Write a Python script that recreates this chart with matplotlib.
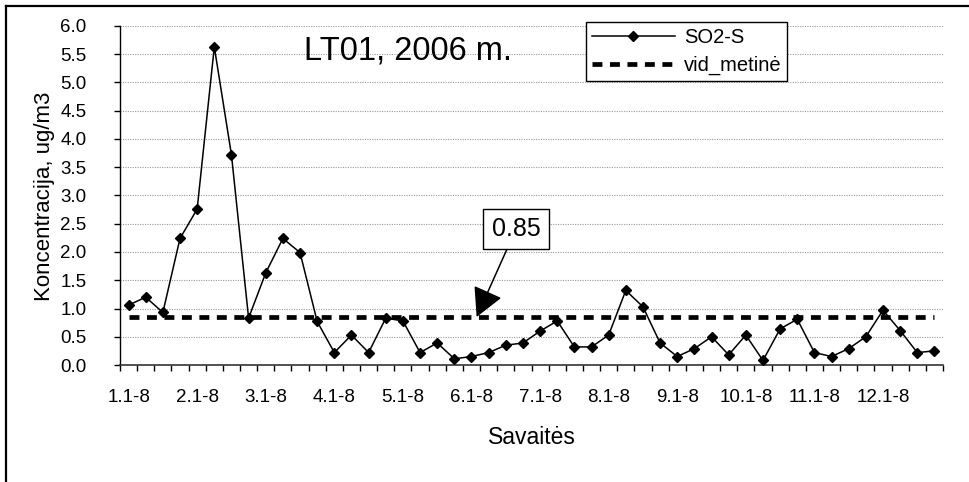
import matplotlib
matplotlib.use("Agg")
import matplotlib.pyplot as plt
from matplotlib.lines import Line2D
import numpy as np

plt.rcParams['font.family'] = ['Liberation Sans', 'DejaVu Sans']

# ---- data ----
so2_s = [1.06, 1.20, 0.93, 2.24, 2.76, 5.63, 3.72, 0.83, 1.63, 2.24, 1.99, 0.77,
         0.22, 0.53, 0.22, 0.83, 0.78, 0.22, 0.39, 0.11, 0.15, 0.22, 0.35, 0.39,
         0.60, 0.78, 0.32, 0.32, 0.53, 1.32, 1.03, 0.39, 0.15, 0.29, 0.50, 0.18,
         0.53, 0.08, 0.64, 0.81, 0.22, 0.15, 0.29, 0.50, 0.97, 0.61, 0.22, 0.25]
mean_value = 0.85
month_labels = ["1.1-8", "2.1-8", "3.1-8", "4.1-8", "5.1-8", "6.1-8",
                "7.1-8", "8.1-8", "9.1-8", "10.1-8", "11.1-8", "12.1-8"]
title_text = "LT01, 2006 m."
ylabel_text = "Koncentracija, ug/m3"
xlabel_text = "Savaitės"
legend_labels = ["SO2-S", "vid_metinė"]

n = len(so2_s)
x = np.arange(n)
mean_series = [mean_value] * n

W, H = 969, 482
fig = plt.figure(figsize=(W / 100, H / 100), dpi=100)
ax = fig.add_axes([120 / W, 1 - 365 / H, (943 - 120) / W, (365 - 26) / H])

ax.set_xlim(-0.5, n - 0.5)
ax.set_ylim(0, 6.0)

# gridlines
yt = np.arange(0, 6.01, 0.5)
ax.set_yticks(yt)
ax.set_yticklabels([f"{v:.1f}" for v in yt])
for v in yt[1:]:
    ax.axhline(v, color='#9a9a9a', lw=0.8, ls=(0, (1, 1.2)), zorder=0)

l1, = ax.plot(x, so2_s, color='black', lw=1.1, marker='D', markersize=5.0,
              markerfacecolor='black', markeredgecolor='black', zorder=3)
l2, = ax.plot(x, mean_series, color='black', lw=3.4, ls=(0, (2.1, 1.6)),
              dash_capstyle='butt', zorder=2)

# x ticks
ax.set_xticks(np.arange(0, n, 4))
ax.set_xticklabels(month_labels)
ax.set_xticks(np.arange(-0.5, n, 1), minor=True)
ax.tick_params(axis='x', which='major', length=0, pad=17, labelsize=13.5)
ax.tick_params(axis='x', which='minor', length=4, width=1, direction='out', color='black')
ax.tick_params(axis='y', which='major', length=4, width=1, direction='out', pad=20, labelsize=13.5)

for s in ['top', 'right']:
    ax.spines[s].set_visible(False)
ax.spines['left'].set_linewidth(1.0)
ax.spines['bottom'].set_linewidth(1.2)
ax.spines['bottom'].set_color('#333333')

fig.text(45 / W, 1 - 196 / H, ylabel_text, rotation=90, ha='center', va='center', fontsize=16)
fig.text((120 + 943) / 2 / W, 1 - 438 / H, xlabel_text, ha='center', va='center', fontsize=16.5)

fig.text(408 / W, 1 - 51 / H, title_text, ha='center', va='center', fontsize=23.5)

# annotation
ax.annotate(f"{mean_value:.2f}", xy=(20.3, mean_value), xytext=(22.6, 2.41),
            ha='center', va='center', fontsize=18,
            bbox=dict(boxstyle='square,pad=0.33', fc='white', ec='black', lw=1),
            arrowprops=dict(arrowstyle='-|>,head_length=0.9,head_width=0.48',
                            mutation_scale=20, color='black', lw=1.1,
                            shrinkA=0, shrinkB=0),
            zorder=5)

leg = ax.legend([l1, l2], legend_labels, loc='upper left',
                bbox_to_anchor=(586 / W, 1 - 22 / H), bbox_transform=fig.transFigure,
                fontsize=14.5, frameon=True, fancybox=False, framealpha=1,
                edgecolor='black', handlelength=4.1, handletextpad=0.45,
                borderpad=0.3, labelspacing=0.45, borderaxespad=0)
leg.get_frame().set_linewidth(1.0)
leg.set_zorder(6)

# outer chart border (top and left)
fig.add_artist(Line2D([6 / W, 6 / W], [1 - 6 / H, 0], transform=fig.transFigure,
                      color='black', lw=1.6))
fig.add_artist(Line2D([6 / W, 1], [1 - 6 / H, 1 - 6 / H], transform=fig.transFigure,
                      color='black', lw=1.6))

fig.savefig("out.png", dpi=100)
